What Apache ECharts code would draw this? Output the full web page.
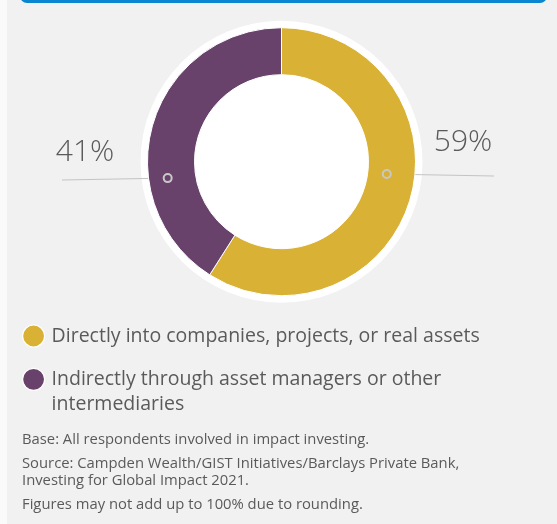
<!DOCTYPE html>
<html>
<head>
<meta charset="utf-8">
<script src="https://cdn.jsdelivr.net/npm/echarts@6/dist/echarts.min.js"></script>
<style>
  html, body { margin: 0; padding: 0; background: #fafafa; }
  #chart { width: 557px; height: 524px; }
</style>
</head>
<body>
<div id="chart"></div>
<script>
// Where impact investments are made
const categories = [
  'Directly into companies, projects, or real assets',
  'Indirectly through asset managers or other intermediaries'
];
const values = [59, 41];
const colors = ['#d9b134', '#68426b'];
const legendLines = [
  ['Directly into companies, projects, or real assets'],
  ['Indirectly through asset managers or other', 'intermediaries']
];
const notes = [
  'Base: All respondents involved in impact investing.',
  'Source: Campden Wealth/GIST Initiatives/Barclays Private Bank,',
  'Investing for Global Impact 2021.',
  'Figures may not add up to 100% due to rounding.'
];

const FONT = '"Open Sans", Lato, sans-serif';
const TEXT = '#5a5a5a';
const CX = 281.5, CY = 161.7;
const R_IN = 87, R_OUT = 134;

// leader-line geometry for each slice: dot inside the ring, line running out to the label
const guides = [
  { angle: 6.7, r: 106, endX: 494, endY: 176, labelX: 463, labelY: 142 },
  { angle: 171.8, r: 115, endX: 62, endY: 180, labelX: 85, labelY: 152 }
];
function dotPoint(g) {
  const rad = g.angle * Math.PI / 180;
  return [CX + g.r * Math.cos(rad), CY + g.r * Math.sin(rad)];
}

const chart = echarts.init(document.getElementById('chart'));

const graphics = [
  { type: 'rect', shape: { x: 7, y: 0, width: 550, height: 524 }, style: { fill: '#f1f1f1' }, z: -10 },
  { type: 'rect', shape: { x: 20, y: -20, width: 527, height: 23, r: 7 }, style: { fill: '#0a85cf' }, z: -5 },
  { type: 'circle', shape: { cx: CX, cy: CY, r: 141 }, style: { fill: '#ffffff' }, z: -4 }
];
guides.forEach(function (g) {
  const p = dotPoint(g);
  graphics.push({
    type: 'circle', shape: { cx: p[0], cy: p[1], r: 4 },
    style: { fill: 'none', stroke: '#c8c8c8', lineWidth: 2 }, z: 100
  });
});
const noteY = [440, 464, 481, 505];
notes.forEach(function (t, i) {
  graphics.push({
    type: 'text', x: 22, y: noteY[i], z: 10,
    style: { text: t, fill: TEXT, font: '14.8px ' + FONT, verticalAlign: 'middle' }
  });
});

function legendFor(i, top) {
  return {
    data: [categories[i]],
    left: 22,
    top: top,
    padding: 0,
    icon: 'circle',
    itemWidth: 22,
    itemHeight: 22,
    selectedMode: false,
    itemStyle: { borderColor: '#ffffff', borderWidth: 1.2 },
    textStyle: { fontFamily: FONT, fontSize: 19.5, color: TEXT, lineHeight: 25, padding: [0, 0, 0, 2] },
    formatter: function () {
      const lines = legendLines[i];
      // a leading blank line keeps the marker level with the first line of text
      return lines.length > 1 ? '\n' + lines.join('\n') : lines[0];
    }
  };
}

chart.setOption({
  backgroundColor: '#fafafa',
  animation: false,
  color: colors,
  graphic: graphics,
  legend: [legendFor(0, 323.5), legendFor(1, 341.8)],
  series: [{
    type: 'pie',
    center: [CX, CY],
    radius: [R_IN, R_OUT],
    startAngle: 90,
    clockwise: true,
    silent: true,
    itemStyle: { borderColor: '#ffffff', borderWidth: 1 },
    label: {
      show: true,
      position: 'outside',
      formatter: '{c}%',
      fontFamily: FONT,
      fontSize: 30,
      fontWeight: 300,
      color: TEXT
    },
    labelLine: { show: true, lineStyle: { color: '#c4c4c4', width: 1 } },
    labelLayout: function (params) {
      const g = guides[params.dataIndex];
      const p = dotPoint(g);
      return {
        x: g.labelX, y: g.labelY,
        align: 'center', verticalAlign: 'middle',
        labelLinePoints: [[p[0], p[1]], [g.endX, g.endY], [g.endX, g.endY]]
      };
    },
    data: categories.map(function (c, i) { return { name: c, value: values[i] }; })
  }]
});
</script>
</body>
</html>
